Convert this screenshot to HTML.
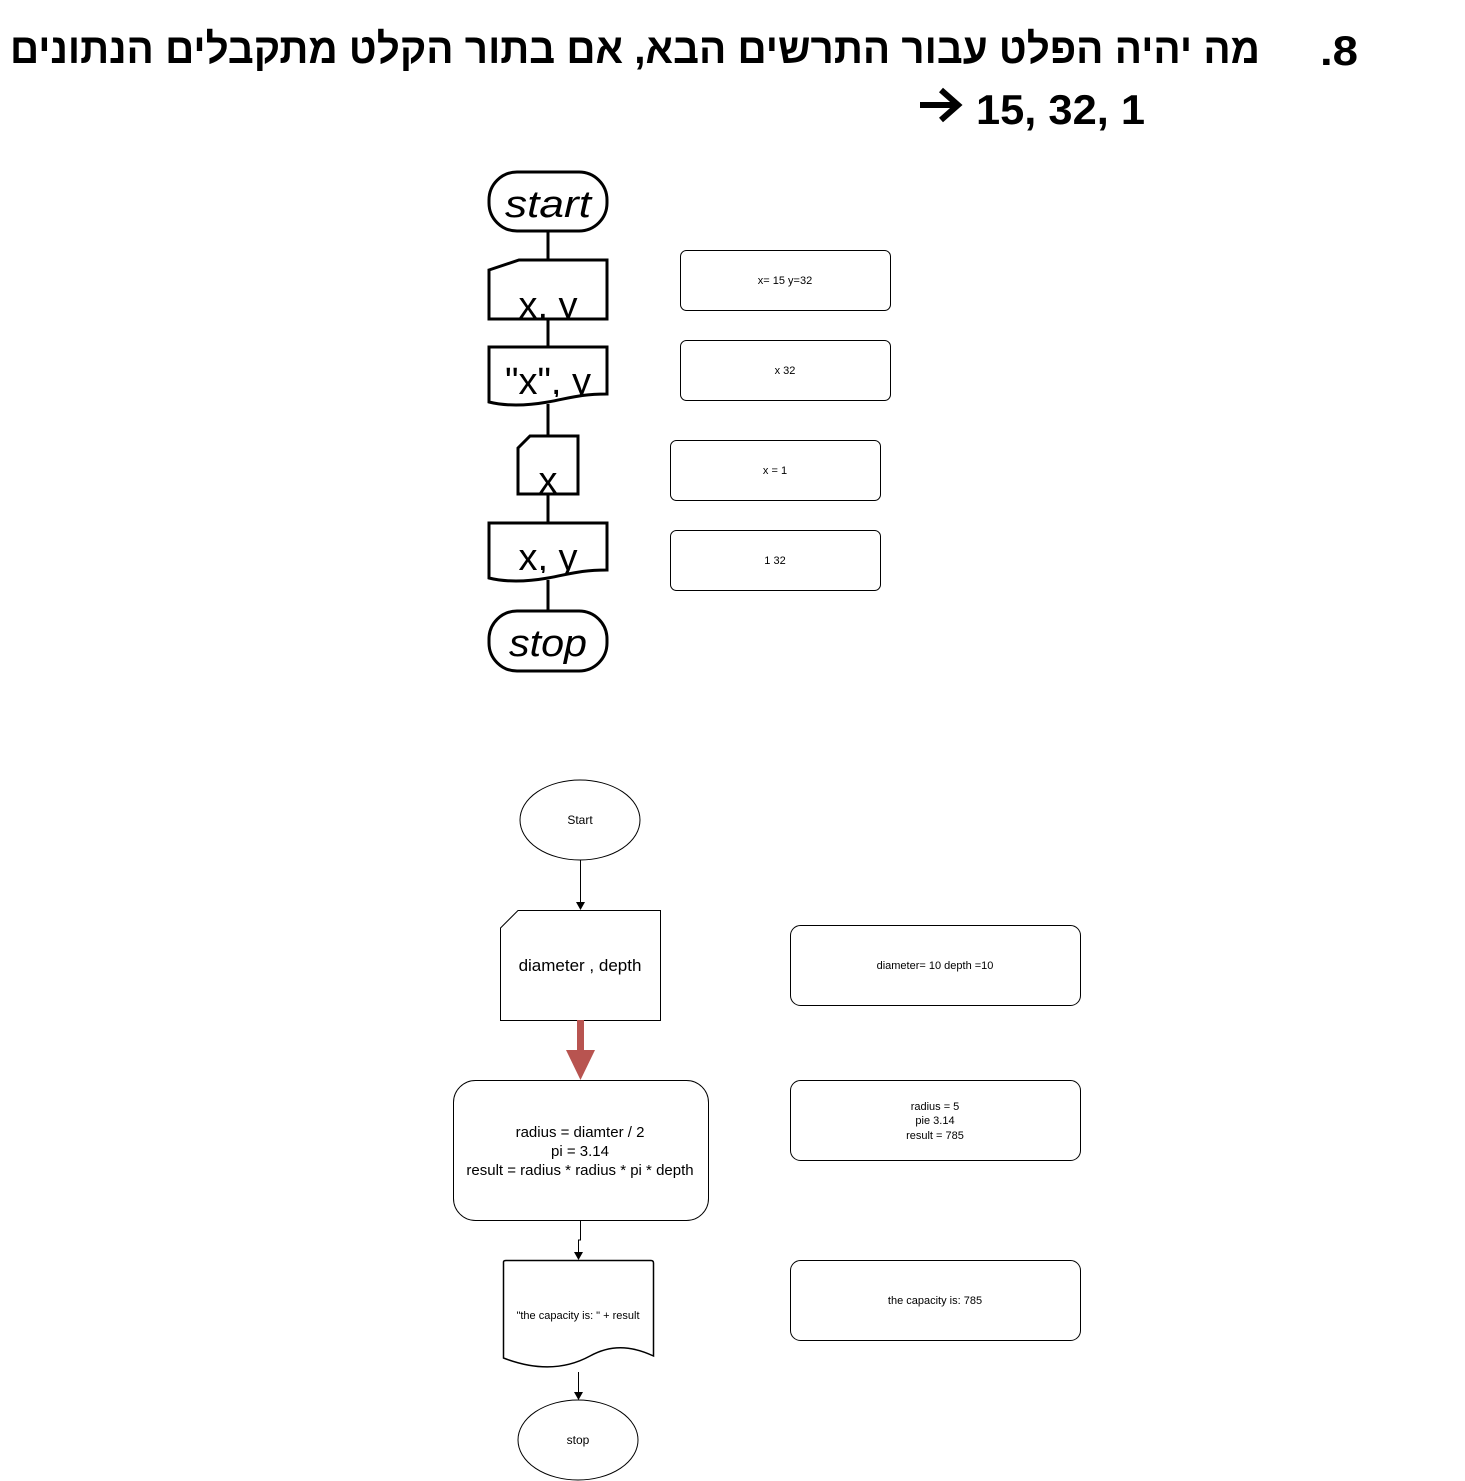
<!DOCTYPE html>
<html><head><meta charset="utf-8"><style>
html,body{margin:0;padding:0;background:#fff;}
svg{display:block;}
</style></head><body>
<svg width="1465" height="1481" viewBox="0 0 1465 1481" xmlns="http://www.w3.org/2000/svg">
<defs>
<clipPath id="c1"><rect x="489" y="260" width="118" height="58"/></clipPath>
<clipPath id="c2"><rect x="489" y="347" width="118" height="50"/></clipPath>
<clipPath id="c4"><rect x="489" y="523" width="118" height="50"/></clipPath>
</defs>
<!-- header -->
<text x="10" y="63" text-anchor="start" font-family="Liberation Sans, sans-serif" font-weight="bold" font-size="42" textLength="1250" lengthAdjust="spacingAndGlyphs">מה יהיה הפלט עבור התרשים הבא, אם בתור הקלט מתקבלים הנתונים</text>
<text x="1320" y="65" font-family="Liberation Sans, sans-serif" font-weight="bold" font-size="42" textLength="38" lengthAdjust="spacingAndGlyphs">.8</text>
<path d="M920 105 L955 105 M941 90 L958 105 L941 120" stroke="#000" stroke-width="6" fill="none"/>
<text x="976" y="124" font-family="Liberation Sans, sans-serif" font-weight="bold" font-size="42" textLength="169" lengthAdjust="spacingAndGlyphs">15, 32, 1</text>

<g fill="none" stroke="#000" stroke-width="3">
<line x1="548" y1="231" x2="548" y2="260"/>
<line x1="548" y1="319" x2="548" y2="347"/>
<line x1="548" y1="404" x2="548" y2="436"/>
<line x1="548" y1="494" x2="548" y2="523"/>
<line x1="548" y1="580" x2="548" y2="611"/>
<rect x="489" y="172" width="118" height="59" rx="28"/>
<path d="M489 270 L519 260 L607 260 L607 319 L489 319 Z"/>
<path d="M489 347 L607 347 L607 394 C580 394 570 398 548 402 C525 406 505 406 489 402 Z"/>
<path d="M518 448 L530 436 L578 436 L578 494 L518 494 Z"/>
<path d="M489 523 L607 523 L607 570 C580 570 570 574 548 578 C525 582 505 582 489 578 Z"/>
<rect x="489" y="611" width="118" height="60" rx="28"/>
</g>
<g font-family="Liberation Sans, sans-serif" font-size="38" text-anchor="middle" fill="#000">
<text x="548" y="217" font-style="italic" textLength="86" lengthAdjust="spacingAndGlyphs">start</text>
<text x="548" y="318" clip-path="url(#c1)">x, y</text>
<text x="548" y="394" clip-path="url(#c2)">"x", y</text>
<text x="548" y="493">x</text>
<text x="548" y="570" clip-path="url(#c4)">x, y</text>
<text x="548" y="656" font-style="italic" textLength="78" lengthAdjust="spacingAndGlyphs">stop</text>
</g>
<g fill="#fff" stroke="#000" stroke-width="1">
<rect x="680.5" y="250.5" width="210" height="60" rx="6"/>
<rect x="680.5" y="340.5" width="210" height="60" rx="6"/>
<rect x="670.5" y="440.5" width="210" height="60" rx="6"/>
<rect x="670.5" y="530.5" width="210" height="60" rx="6"/>
</g>
<g font-family="Liberation Sans, sans-serif" font-size="11" text-anchor="middle" fill="#000">
<text x="785" y="284">x= 15 y=32</text>
<text x="785" y="374">x 32</text>
<text x="775" y="474">x = 1</text>
<text x="775" y="564">1 32</text>
</g>

<!-- bottom flowchart -->
<g fill="#fff" stroke="#000" stroke-width="1">
<ellipse cx="580" cy="820" rx="60" ry="40"/>
<path d="M500.5 928 L518 910.5 L660.5 910.5 L660.5 1020.5 L500.5 1020.5 Z"/>
<rect x="453.5" y="1080.5" width="255" height="140" rx="22"/>
<path d="M503.5 1262 Q503.5 1260.5 506 1260.5 L651 1260.5 Q653.5 1260.5 653.5 1263 L653.5 1356 C630 1345 610 1345 590 1356 C568 1368 540 1372 503.5 1358 Z" stroke-width="1.5"/>
<ellipse cx="578" cy="1440" rx="60" ry="40"/>
<rect x="790.5" y="925.5" width="290" height="80" rx="10"/>
<rect x="790.5" y="1080.5" width="290" height="80" rx="10"/>
<rect x="790.5" y="1260.5" width="290" height="80" rx="10"/>
</g>
<g stroke="#000" stroke-width="1" fill="none">
<line x1="580.5" y1="860" x2="580.5" y2="904"/>
<path d="M580.5 1220 L580.5 1240 L578.5 1240 L578.5 1254"/>
<line x1="578.5" y1="1372" x2="578.5" y2="1394"/>
</g>
<g fill="#000">
<path d="M576 902 L585 902 L580.5 910 Z"/>
<path d="M574 1252 L583 1252 L578.5 1260 Z"/>
<path d="M574 1392 L583 1392 L578.5 1400 Z"/>
</g>
<rect x="577" y="1020" width="7" height="34" fill="#b85450"/>
<path d="M566 1050 L595 1050 L580.5 1080 Z" fill="#b85450"/>
<g font-family="Liberation Sans, sans-serif" text-anchor="middle" fill="#000">
<text x="580" y="824" font-size="12">Start</text>
<text x="580" y="971" font-size="17">diameter , depth</text>
<text x="580" y="1137" font-size="15">radius = diamter / 2</text>
<text x="580" y="1156" font-size="15">pi = 3.14</text>
<text x="580" y="1175" font-size="15">result = radius * radius * pi * depth</text>
<text x="578" y="1319" font-size="11">"the capacity is: " +  result</text>
<text x="578" y="1444" font-size="12">stop</text>
<text x="935" y="969" font-size="11">diameter=  10 depth =10</text>
<text x="935" y="1110" font-size="11">radius =  5</text>
<text x="935" y="1124" font-size="11">pie 3.14</text>
<text x="935" y="1139" font-size="11">result = 785</text>
<text x="935" y="1304" font-size="11">the capacity is: 785</text>
</g>
</svg>
</body></html>
